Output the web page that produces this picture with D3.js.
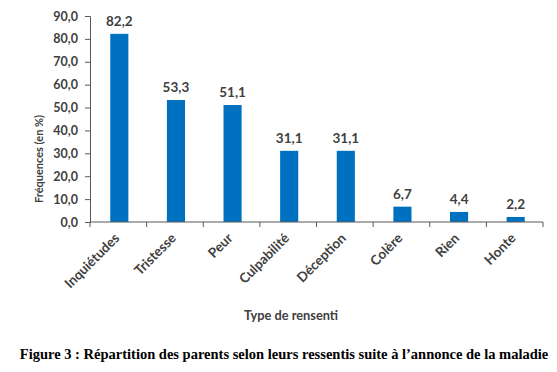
<!DOCTYPE html>
<html>
<head>
<meta charset="utf-8">
<script src="https://cdn.jsdelivr.net/npm/d3@7"></script>
<style>
  body { margin: 0; background: #fff; }
  svg { display: block; }
</style>
</head>
<body>
<script>
// Data
const categories = ['Inquiétudes', 'Tristesse', 'Peur', 'Culpabilité', 'Déception', 'Colère', 'Rien', 'Honte'];
const values = [82.2, 53.3, 51.1, 31.1, 31.1, 6.7, 4.4, 2.2];
const yTicks = [0, 10, 20, 30, 40, 50, 60, 70, 80, 90];

const W = 557, H = 372;
const plot = { left: 90, right: 543, top: 16, bottom: 222 };
const barColor = '#0070C0';
const textColor = '#404040';
const font = 'Lato, "Open Sans", sans-serif';
const fmt = v => d3.format('.1f')(v).replace('.', ',');

const svg = d3.select('body').append('svg')
    .attr('width', W).attr('height', H);

const x = d3.scaleBand().domain(categories).range([plot.left, plot.right]);
const y = d3.scaleLinear().domain([0, 90]).range([plot.bottom, plot.top]);
const barW = x.bandwidth() * 0.32;

// Bars
svg.selectAll('rect.bar').data(values).join('rect')
    .attr('class', 'bar')
    .attr('x', (d, i) => x(categories[i]) + x.bandwidth() / 2 - barW / 2 + 1)
    .attr('y', d => y(d))
    .attr('width', barW)
    .attr('height', d => y(0) - y(d))
    .attr('fill', barColor);

// Value labels
svg.selectAll('text.val').data(values).join('text')
    .attr('class', 'val')
    .attr('x', (d, i) => x(categories[i]) + x.bandwidth() / 2 + 1)
    .attr('y', d => y(d) - 8)
    .attr('text-anchor', 'middle')
    .style('font', `bold 13.5px ${font}`)
    .style('fill', textColor)
    .text(fmt);

// Y axis
const yAxis = svg.append('g')
    .attr('transform', `translate(${plot.left},0)`)
    .call(d3.axisLeft(y).tickValues(yTicks).tickFormat(fmt).tickSize(5).tickPadding(7));
yAxis.select('.domain').attr('stroke', '#595959');
yAxis.selectAll('.tick line').attr('stroke', '#595959');
yAxis.selectAll('text').style('font', `bold 12.5px ${font}`).style('fill', textColor);

// X axis: ticks on band boundaries, pointing down
svg.append('line')
    .attr('x1', plot.left).attr('x2', plot.right)
    .attr('y1', plot.bottom).attr('y2', plot.bottom)
    .attr('stroke', '#595959');
const bounds = categories.map(c => x(c)).concat([plot.right]);
svg.selectAll('line.xtick').data(bounds).join('line')
    .attr('class', 'xtick')
    .attr('x1', d => d).attr('x2', d => d)
    .attr('y1', plot.bottom).attr('y2', plot.bottom + 5)
    .attr('stroke', '#595959');

// Rotated category labels
svg.selectAll('text.cat').data(categories).join('text')
    .attr('class', 'cat')
    .attr('transform', d => `translate(${x(d) + x.bandwidth() / 2 + 2},${plot.bottom + 17}) rotate(-45)`)
    .attr('text-anchor', 'end')
    .style('font', `bold 13.5px ${font}`)
    .style('fill', textColor)
    .text(d => d);

// Axis titles
svg.append('text')
    .attr('transform', 'translate(43,159) rotate(-90)')
    .attr('text-anchor', 'middle')
    .style('font', `bold 11px ${font}`)
    .style('fill', textColor)
    .text('Fréquences (en %)');

svg.append('text')
    .attr('x', 291).attr('y', 320)
    .attr('text-anchor', 'middle')
    .style('font', `bold 12.8px ${font}`)
    .style('fill', textColor)
    .text('Type de rensenti');

// Caption
svg.append('text')
    .attr('x', 284).attr('y', 359)
    .attr('text-anchor', 'middle')
    .style('font', 'bold 14.5px "Liberation Serif", "Times New Roman", serif')
    .style('fill', '#000')
    .text('Figure 3 : Répartition des parents selon leurs ressentis suite à l’annonce de la maladie');
</script>
</body>
</html>
